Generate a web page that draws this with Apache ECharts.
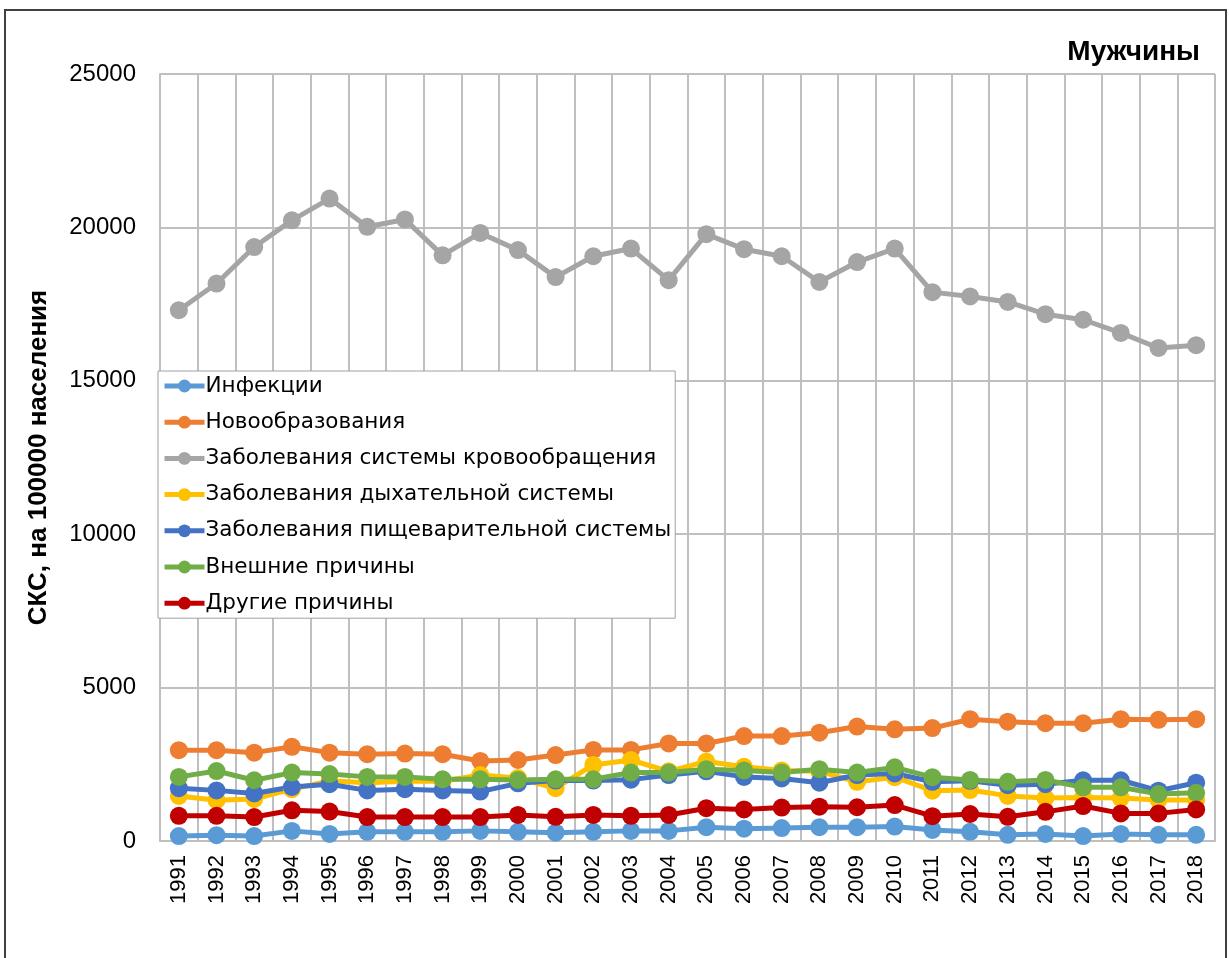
<!DOCTYPE html>
<html>
<head>
<meta charset="utf-8">
<script src="https://cdn.jsdelivr.net/npm/echarts@6/dist/echarts.min.js"></script>
<style>
  html, body { margin: 0; padding: 0; background: #fff; }
  #chart { width: 1229px; height: 958px; }
</style>
</head>
<body>
<div id="chart"></div>
<script>
const years = ['1991','1992','1993','1994','1995','1996','1997','1998','1999','2000','2001','2002','2003','2004',
  '2005','2006','2007','2008','2009','2010','2011','2012','2013','2014','2015','2016','2017','2018']

const infections = [160,190,160,330,230,300,300,300,330,300,270,300,330,330,450,400,420,450,450,470,360,300,200,230,160,230,200,200]
const neoplasms = [2960,2960,2880,3070,2880,2830,2850,2830,2610,2640,2800,2970,2970,3180,3180,3420,3420,3530,3730,3640,3680,3970,3890,3840,3840,3970,3950,3970]
const circulatory = [17300,18170,19360,20230,20940,20020,20260,19090,19820,19260,18380,19060,19310,18280,19780,19290,19060,18220,18870,19310,17890,17750,17570,17170,16990,16560,16070,16160]
const respiratory = [1470,1330,1370,1690,1960,1900,1950,1950,2150,2050,1720,2480,2640,2270,2590,2420,2300,2270,1930,2080,1640,1660,1470,1400,1420,1400,1340,1340]
const digestive = [1720,1650,1550,1760,1850,1650,1690,1650,1610,1880,1970,1970,2000,2150,2270,2090,2040,1900,2150,2200,1930,1960,1820,1850,1980,1980,1640,1900]
const external = [2090,2280,1980,2230,2180,2090,2090,2010,2010,1990,2010,2010,2230,2230,2340,2300,2230,2340,2230,2400,2080,1990,1930,1990,1750,1750,1530,1570]
const other = [820,820,780,1000,960,780,780,780,780,850,790,850,820,850,1070,1030,1090,1120,1100,1170,810,880,790,950,1140,900,900,1030]

const seriesDefs = [
  { name: 'Инфекции', data: infections, color: '#5B9BD5' },
  { name: 'Новообразования', data: neoplasms, color: '#ED7D31' },
  { name: 'Заболевания системы кровообращения', data: circulatory, color: '#A5A5A5' },
  { name: 'Заболевания дыхательной системы', data: respiratory, color: '#FFC000' },
  { name: 'Заболевания пищеварительной системы', data: digestive, color: '#4472C4' },
  { name: 'Внешние причины', data: external, color: '#70AD47' },
  { name: 'Другие причины', data: other, color: '#C00000' }
]

const font = 'Liberation Sans, Arial, sans-serif'
const chart = echarts.init(document.getElementById('chart'))

chart.setOption({
  animation: false,
  textStyle: { fontFamily: font },
  graphic: [{
    type: 'rect',
    shape: { x: 5, y: 10, width: 1221, height: 960 },
    style: { fill: 'none', stroke: '#404040', lineWidth: 2 },
    silent: true
  }],
  title: {
    text: 'Мужчины',
    right: 24,
    top: 33,
    textStyle: { fontFamily: font, fontSize: 28, fontWeight: 'bold', color: '#000' }
  },
  legend: {
    orient: 'vertical',
    left: 158,
    top: 371,
    padding: [0, 4, 0, 4],
    itemGap: 6.2,
    itemWidth: 40,
    itemHeight: 16,
    backgroundColor: '#fff',
    borderColor: '#A0A0A0',
    borderWidth: 1,
    lineStyle: { width: 5 },
    textStyle: { fontFamily: 'DejaVu Sans, sans-serif', fontSize: 21.5, color: '#000', lineHeight: 30, padding: [0, 0, 0, -4] },
    data: seriesDefs.map(s => s.name)
  },
  grid: { left: 160, top: 74, right: 14, bottom: 117 },
  xAxis: {
    type: 'category',
    data: years,
    boundaryGap: true,
    axisLine: { lineStyle: { color: '#BFBFBF', width: 2 } },
    axisTick: { show: false },
    axisLabel: { rotate: 90, fontSize: 22, color: '#000', margin: 14, interval: 0 },
    splitLine: { show: true, interval: 0, lineStyle: { color: '#BFBFBF', width: 2 } }
  },
  yAxis: {
    type: 'value',
    min: 0,
    max: 25000,
    interval: 5000,
    name: 'СКС, на 100000 населения',
    nameLocation: 'middle',
    nameGap: 108,
    nameTextStyle: { fontFamily: font, fontSize: 26, fontWeight: 'bold', color: '#000' },
    axisLine: { show: true, lineStyle: { color: '#BFBFBF', width: 2 } },
    axisLabel: { fontSize: 24, color: '#000', margin: 24, formatter: v => String(v) },
    splitLine: { lineStyle: { color: '#BFBFBF', width: 2 } }
  },
  series: seriesDefs.map(s => ({
    name: s.name,
    type: 'line',
    data: s.data,
    symbol: 'circle',
    symbolSize: 18,
    color: s.color,
    lineStyle: { width: 5, color: s.color },
    itemStyle: { color: s.color }
  }))
})
</script>
</body>
</html>
